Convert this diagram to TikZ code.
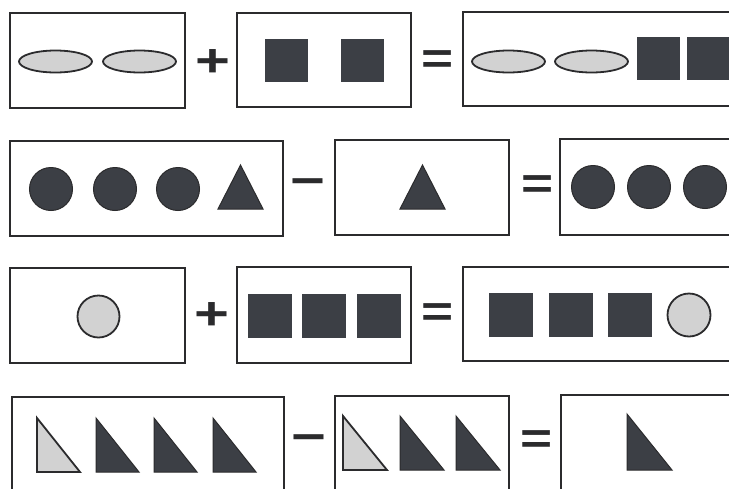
\documentclass[tikz,border=0pt]{standalone}
\usepackage{fontspec}
\setmainfont{Liberation Sans}
\usetikzlibrary{shapes.geometric}
\definecolor{ink}{HTML}{2B2B2D}
\definecolor{darkfill}{HTML}{3C3F45}
\definecolor{lightfill}{HTML}{D2D2D2}
\tikzset{
  frame/.style={draw=ink, line width=2pt, rectangle, inner sep=0pt},
  oval/.style={ellipse, draw=ink, line width=1.8pt, fill=lightfill, minimum width=73pt, minimum height=22pt, inner sep=0pt},
  blk/.style={rectangle, draw=darkfill, line width=0.8pt, fill=darkfill, minimum size=42pt, inner sep=0pt},
  dball/.style={circle, draw=ink, line width=1pt, fill=darkfill, minimum size=43pt, inner sep=0pt},
  lball/.style={circle, draw=ink, line width=1.8pt, fill=lightfill, minimum size=42pt, inner sep=0pt},
  dtri/.style={draw=ink, line width=1pt, fill=darkfill, line join=miter},
  ltri/.style={draw=ink, line width=1.8pt, fill=lightfill, line join=miter},
  op/.style={inner sep=0pt, text=ink, font=\fontsize{46}{46}\selectfont\bfseries, xscale=1.3},
  eqop/.style={inner sep=0pt, text=ink, font=\fontsize{44}{44}\selectfont\bfseries, xscale=1.25},
}
\begin{document}
\begin{tikzpicture}[x=1pt, y=-1pt]
\useasboundingbox (0,0) rectangle (729,488);
\fill[white] (0,0) rectangle (729,488);
\clip (0,0) rectangle (729,488);
% ---------- row 1 ----------
\node[frame, minimum width=175pt, minimum height=95pt] (a1) at (97.5,60.5) {};
\node[oval] (a1e1) at (55.5,61.5) {};
\node[oval] (a1e2) at (139.5,61.5) {};
\node[op] (aplus) at (212.5,63.5) {+};
\node[frame, minimum width=174pt, minimum height=94pt] (a2) at (324,60) {};
\node[blk] (a2s1) at (286,60) {};
\node[blk] (a2s2) at (362,60) {};
\node[eqop] (aeq) at (438,62) {=};
\node[frame, minimum width=297pt, minimum height=94pt] (a3) at (611.5,59) {};
\node[oval] (a3e1) at (508.5,61.5) {};
\node[oval] (a3e2) at (591.5,61.5) {};
\node[blk] (a3s1) at (658,58) {};
\node[blk] (a3s2) at (708,58) {};
% ---------- row 2 ----------
\node[frame, minimum width=273pt, minimum height=95pt] (b1) at (146.5,188.5) {};
\node[dball] (b1c1) at (51,189) {};
\node[dball] (b1c2) at (115,189) {};
\node[dball] (b1c3) at (178,189) {};
\draw[dtri] (218,209) -- (263,209) -- (240.5,165) -- cycle;
\node[op] (bminus) at (307.5,188) {−};
\node[frame, minimum width=174pt, minimum height=95pt] (b2) at (422,187.5) {};
\draw[dtri] (400,209) -- (445,209) -- (422.5,165) -- cycle;
\node[eqop] (beq) at (537.5,187) {=};
\node[frame, minimum width=200pt, minimum height=96pt] (b3) at (660,187) {};
\node[dball] (b3c1) at (593,187) {};
\node[dball] (b3c2) at (649,187) {};
\node[dball] (b3c3) at (705,187) {};
% ---------- row 3 ----------
\node[frame, minimum width=175pt, minimum height=95pt] (c1) at (97.5,315.5) {};
\node[lball] (c1c) at (98.5,316.5) {};
\node[op] (cplus) at (212,316) {+};
\node[frame, minimum width=174pt, minimum height=96pt] (c2) at (324,315) {};
\node[blk, minimum size=43pt] (c2s1) at (269.5,315.5) {};
\node[blk, minimum size=43pt] (c2s2) at (324,315.5) {};
\node[blk, minimum size=43pt] (c2s3) at (379,315.5) {};
\node[eqop] (ceq) at (438,315.5) {=};
\node[frame, minimum width=297pt, minimum height=94pt] (c3) at (611.5,314) {};
\node[blk, minimum size=43pt] (c3s1) at (511,314.5) {};
\node[blk, minimum size=43pt] (c3s2) at (571,314.5) {};
\node[blk, minimum size=43pt] (c3s3) at (630,314.5) {};
\node[lball, minimum size=43pt] (c3c) at (689,315) {};
% ---------- row 4 ----------
\node[frame, minimum width=272pt, minimum height=113pt] (d1) at (148,453.5) {};
\draw[ltri] (37,418) -- (37,472) -- (80,472) -- cycle;
\draw[dtri] (96,418) -- (96,472) -- (139,472) -- cycle;
\draw[dtri] (154,418) -- (154,472) -- (197,472) -- cycle;
\draw[dtri] (213,418) -- (213,472) -- (256,472) -- cycle;
\node[op] (dminus) at (309,444) {−};
\node[frame, minimum width=174pt, minimum height=114pt] (d2) at (422,453) {};
\draw[ltri] (343,416) -- (343,470) -- (387,470) -- cycle;
\draw[dtri] (400,416) -- (400,470) -- (444,470) -- cycle;
\draw[dtri] (456,416) -- (456,470) -- (500,470) -- cycle;
\node[eqop] (deq) at (536.5,442) {=};
\node[frame, minimum width=199pt, minimum height=115pt] (d3) at (660.5,452.5) {};
\draw[dtri] (627,414) -- (627,470) -- (672,470) -- cycle;
\end{tikzpicture}
\end{document}
